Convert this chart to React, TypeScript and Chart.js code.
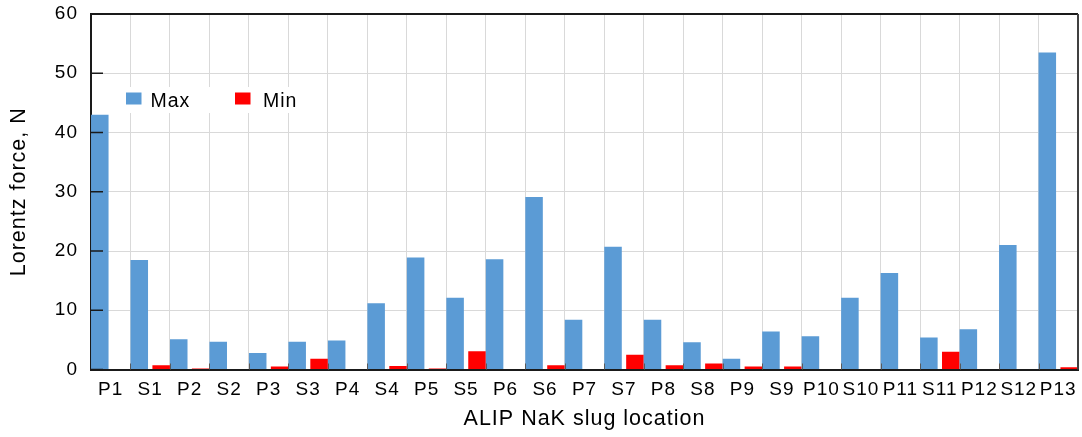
import React, { useEffect, useRef } from 'react';
import { Chart, registerables } from 'chart.js';

Chart.register(...registerables);

const categories = ['P1', 'S1', 'P2', 'S2', 'P3', 'S3', 'P4', 'S4', 'P5', 'S5', 'P6', 'S6', 'P7', 'S7', 'P8', 'S8', 'P9', 'S9', 'P10', 'S10', 'P11', 'S11', 'P12', 'S12', 'P13'];
const maxValues = [43.0, 18.5, 5.1, 4.7, 2.8, 4.7, 4.9, 11.2, 18.9, 12.1, 18.6, 29.1, 8.4, 20.7, 8.4, 4.6, 1.8, 6.4, 5.6, 12.1, 16.3, 5.4, 6.8, 21.0, 53.5];
const minValues = [0, 0.7, 0.15, 0, 0.5, 1.8, 0, 0.6, 0.15, 3.1, 0, 0.7, 0, 2.5, 0.7, 1.0, 0.5, 0.5, 0, 0, 0, 3.0, 0, 0, 0.4];
const seriesNames = ['Max', 'Min'];
const seriesColors = ['#5B9BD5', '#FF0000'];
const yTicks = [0, 10, 20, 30, 40, 50, 60];
const xTitle = 'ALIP NaK slug location';
const yTitle = 'Lorentz force, N';

const FAMILY = "'Liberation Sans', Arial, Helvetica, sans-serif";

const spacingPlugin = {
  id: 'spacing',
  beforeLayout(chart: any) {
    chart.ctx.letterSpacing = '1px';
  },
  beforeDraw(chart: any) {
    chart.ctx.letterSpacing = '1px';
  },
};

const decorPlugin = {
  id: 'decor',
  afterDatasetsDraw(chart: any) {
    const { ctx, chartArea } = chart;
    const xs = chart.scales.x;
    const ys = chart.scales.y;
    ctx.save();
    // top and right frame lines
    ctx.strokeStyle = '#1a1a1a';
    ctx.lineWidth = 2;
    ctx.beginPath();
    ctx.moveTo(chartArea.left, chartArea.top);
    ctx.lineTo(chartArea.right, chartArea.top);
    ctx.stroke();
    ctx.strokeStyle = '#404040';
    ctx.beginPath();
    ctx.moveTo(chartArea.right, chartArea.top);
    ctx.lineTo(chartArea.right, chartArea.bottom);
    ctx.stroke();
    // inward y tick marks
    ctx.strokeStyle = '#1a1a1a';
    ctx.lineWidth = 1.5;
    yTicks.forEach((v) => {
      const py = ys.getPixelForValue(v);
      ctx.beginPath();
      ctx.moveTo(chartArea.left, py);
      ctx.lineTo(chartArea.left + 12, py);
      ctx.stroke();
    });
    // inward x tick marks at category boundaries
    ctx.strokeStyle = '#595959';
    ctx.lineWidth = 1;
    for (let i = 1; i < categories.length; i++) {
      const bx = Math.round((xs.getPixelForValue(i - 1) + xs.getPixelForValue(i)) / 2) + 0.5;
      ctx.beginPath();
      ctx.moveTo(bx, chartArea.bottom);
      ctx.lineTo(bx, chartArea.bottom - 6);
      ctx.stroke();
    }
    // legend inside plot
    const lx = chartArea.left;
    const ty = chartArea.top;
    ctx.fillStyle = '#ffffff';
    ctx.fillRect(lx + 22, ty + 73, 200, 26);
    ctx.font = `19.5px ${FAMILY}`;
    ctx.letterSpacing = '1px';
    ctx.textBaseline = 'alphabetic';
    ctx.textAlign = 'left';
    const items = [
      { sx: lx + 35, tx: lx + 59.5 },
      { sx: lx + 144, tx: lx + 172 },
    ];
    items.forEach((it, i) => {
      ctx.fillStyle = seriesColors[i];
      ctx.fillRect(it.sx, ty + 78.5, 15.5, 12);
      ctx.fillStyle = '#000';
      ctx.fillText(seriesNames[i], it.tx, ty + 93.3);
    });
    ctx.restore();
  },
};

export default function App() {
  const ref = useRef<HTMLCanvasElement | null>(null);
  useEffect(() => {
    if (!ref.current) return;
    const chart = new Chart(ref.current, {
      type: 'bar',
      data: {
        labels: categories,
        datasets: [
          {
            label: seriesNames[0],
            data: maxValues,
            backgroundColor: seriesColors[0],
            categoryPercentage: 1.11,
            barPercentage: 0.8,
          },
          {
            label: seriesNames[1],
            data: minValues,
            backgroundColor: seriesColors[1],
            categoryPercentage: 1.11,
            barPercentage: 0.8,
          },
        ],
      },
      options: {
        animation: false,
        responsive: false,
        maintainAspectRatio: false,
        layout: { padding: { top: 14, right: 4, bottom: 0, left: 0 } },
        plugins: {
          legend: { display: false },
          tooltip: { enabled: false },
        },
        scales: {
          x: {
            grid: { color: '#d9d9d9', lineWidth: 1, drawTicks: false, offset: true },
            border: { color: '#1a1a1a', width: 2 },
            ticks: {
              color: '#000',
              font: { family: FAMILY, size: 19 },
              padding: 9,
              autoSkip: false,
              maxRotation: 0,
            },
            title: {
              display: true,
              text: xTitle,
              color: '#000',
              font: { family: FAMILY, size: 21.5 },
              padding: { top: 0, bottom: 5 },
            },
            afterFit: (s: any) => {
              s.height = 67.5;
              s.paddingLeft = 0;
              s.paddingRight = 0;
            },
          },
          y: {
            min: 0,
            max: 60,
            grid: { color: '#d9d9d9', lineWidth: 1, drawTicks: false },
            border: { color: '#1a1a1a', width: 2 },
            ticks: {
              color: '#000',
              font: { family: FAMILY, size: 19 },
              padding: 13,
              stepSize: 10,
            },
            afterBuildTicks: (s: any) => {
              s.ticks = yTicks.map((v) => ({ value: v }));
            },
            title: {
              display: true,
              text: yTitle,
              color: '#000',
              font: { family: FAMILY, size: 21.5 },
              padding: { top: 6, bottom: 0 },
            },
            afterFit: (s: any) => {
              s.width = 91;
              s.paddingTop = 0;
              s.paddingBottom = 0;
            },
          },
        },
      },
      plugins: [spacingPlugin, decorPlugin],
    });
    return () => chart.destroy();
  }, []);
  return (
    <div style={{ position: 'fixed', left: 0, top: 0, width: 1082, height: 437, background: '#fff' }}>
      <canvas ref={ref} width={1082} height={437} style={{ display: 'block', width: 1082, height: 437 }} />
    </div>
  );
}
